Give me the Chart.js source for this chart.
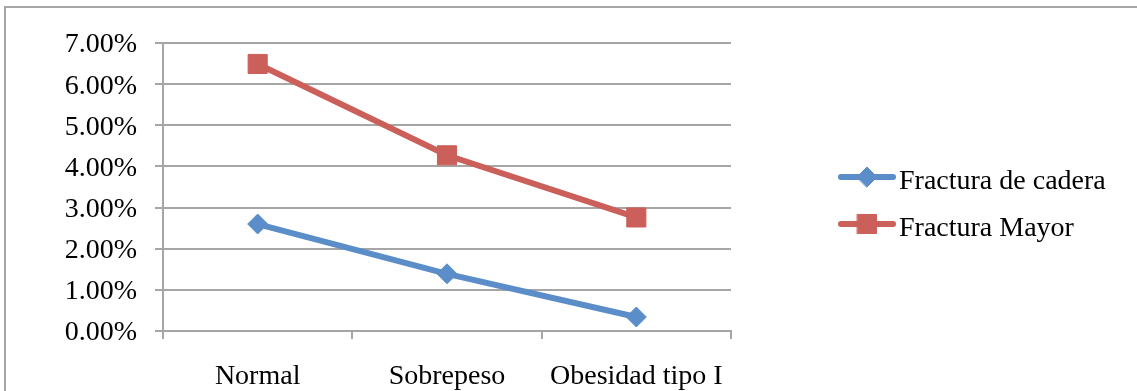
<!DOCTYPE html>
<html>
<head>
<meta charset="utf-8">
<script src="https://cdn.jsdelivr.net/npm/chart.js@4"></script>
<style>
  html, body { margin: 0; padding: 0; background: #fff; }
  #wrap { width: 1137px; height: 391px; position: relative; }
</style>
</head>
<body>
<div id="wrap"><canvas id="c"></canvas></div>
<script>
// Categories and series (percent values)
const categories = ['Normal', 'Sobrepeso', 'Obesidad tipo I'];
const fracturaCadera = [2.60, 1.39, 0.34];
const fracturaMayor = [6.49, 4.27, 2.76];
const seriesNames = ['Fractura de cadera', 'Fractura Mayor'];

const FONT = '"Liberation Serif", "Times New Roman", serif';
const GRID = '#a6a6a6';

// Outer frame of the chart object
const framePlugin = {
  id: 'frame',
  beforeDraw(chart) {
    const ctx = chart.ctx;
    ctx.save();
    ctx.fillStyle = '#fff';
    ctx.fillRect(0, 0, chart.width, chart.height);
    ctx.strokeStyle = '#a6a6a6';
    ctx.lineWidth = 2;
    ctx.strokeRect(5, 7, chart.width + 20, chart.height + 20);
    ctx.restore();
  }
};

// Legend on the right: line segment with marker, then series name
const sideLegend = {
  id: 'sideLegend',
  afterDraw(chart) {
    const ctx = chart.ctx;
    const a = chart.chartArea;
    ctx.save();
    chart.data.datasets.forEach((ds, i) => {
      const y = 177 + i * 47;
      const x0 = a.right + 110, x1 = a.right + 162;
      ctx.strokeStyle = ds.borderColor;
      ctx.lineWidth = ds.borderWidth;
      ctx.lineCap = 'round';
      ctx.beginPath();
      ctx.moveTo(x0, y);
      ctx.lineTo(x1, y);
      ctx.stroke();
      ctx.fillStyle = ds.pointBackgroundColor;
      ctx.strokeStyle = ds.pointBorderColor;
      ctx.lineWidth = ds.pointBorderWidth;
      Chart.helpers.drawPoint(ctx, {
        pointStyle: ds.pointStyle,
        radius: ds.pointRadius,
        borderWidth: ds.pointBorderWidth,
        rotation: 0
      }, (x0 + x1) / 2, y);
      ctx.fillStyle = '#000';
      ctx.font = '28px ' + FONT;
      ctx.textBaseline = 'alphabetic';
      ctx.textAlign = 'left';
      ctx.fillText(ds.label, x1 + 6, y + 12);
    });
    ctx.restore();
  }
};

new Chart(document.getElementById('c'), {
  type: 'line',
  data: {
    labels: categories,
    datasets: [
      {
        label: seriesNames[0],
        data: fracturaCadera,
        borderColor: '#5b8dc9',
        borderWidth: 6,
        pointStyle: 'rectRot',
        pointRadius: 10,
        pointHoverRadius: 10,
        pointBackgroundColor: '#5b8dc9',
        pointBorderColor: '#5b8dc9',
        pointBorderWidth: 1,
        tension: 0
      },
      {
        label: seriesNames[1],
        data: fracturaMayor,
        borderColor: '#cb5f59',
        borderWidth: 6,
        pointStyle: 'rect',
        pointRadius: 13.5,
        pointHoverRadius: 13.5,
        pointBackgroundColor: '#cb5f59',
        pointBorderColor: '#cb5f59',
        pointBorderWidth: 1,
        tension: 0
      }
    ]
  },
  options: {
    responsive: true,
    maintainAspectRatio: false,
    animation: false,
    events: [],
    layout: { padding: { left: 0, right: 406, top: 43, bottom: 0 } },
    plugins: {
      legend: { display: false },
      tooltip: { enabled: false }
    },
    scales: {
      x: {
        offset: true,
        grid: {
          display: true,
          drawOnChartArea: false,
          offset: true,
          tickLength: 8,
          color: GRID,
          lineWidth: 2
        },
        border: { display: true, color: GRID, width: 2 },
        ticks: {
          color: '#000',
          font: { family: FONT, size: 28 },
          padding: 21,
          maxRotation: 0,
          autoSkip: false
        },
        afterFit(scale) { scale.height = 391 - 331; }
      },
      y: {
        min: 0,
        max: 7,
        grid: {
          color: GRID,
          lineWidth: 2,
          tickLength: 8
        },
        border: { display: true, color: GRID, width: 2 },
        ticks: {
          stepSize: 1,
          color: '#000',
          font: { family: FONT, size: 28 },
          padding: 18,
          labelOffset: 2,
          callback: v => Number(v).toFixed(2) + '%'
        },
        afterFit(scale) { scale.width = 163; }
      }
    }
  },
  plugins: [framePlugin, sideLegend]
});
</script>
</body>
</html>
